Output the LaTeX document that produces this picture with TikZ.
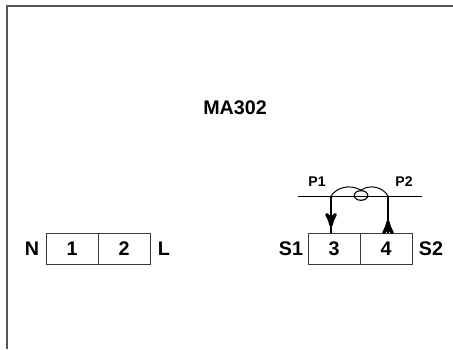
\documentclass[tikz,border=0pt]{standalone}
\usepackage{fontspec}
\setmainfont{Liberation Sans}
\usepackage{xcolor}
\usetikzlibrary{arrows,decorations.markings,shapes.geometric}

\definecolor{framegray}{HTML}{555552}
\definecolor{boxgray}{HTML}{3A3A3A}

\tikzset{
    cell/.style={rectangle, draw=boxgray, line width=0.65pt, minimum width=1.3cm, minimum height=0.775cm, inner sep=0pt},
    term/.style={font=\bfseries\fontsize{14}{14}\selectfont, inner sep=0pt},
    tag/.style={font=\bfseries\fontsize{10}{10}\selectfont, inner sep=0pt},
    downflow/.style={line width=1.7pt, decoration={markings, mark=at position 0.84 with {\arrow[line width=2.2pt]{stealth'}}}, postaction={decorate}},
    upflow/.style={line width=1.7pt, decoration={markings, mark=at position 0.33 with {\arrow[line width=2.2pt]{stealth'}}}, postaction={decorate}}
}

\begin{document}
\begin{tikzpicture}[x=0.025cm,y=-0.025cm]

    \useasboundingbox (0,0) rectangle (453,349);

    %frame
    \coordinate (fa) at (7,349);
    \coordinate (fb) at (7,6);
    \coordinate (fc) at (453,6);
    \draw[framegray, line width=1.7pt] (fa) -- (fb) -- (fc);

    \node[term] (title) at (235,108) {MA302};

    %left terminals
    \node[cell] (c1) at (72,248.5) {};
    \node[term] at (c1.center) {1};
    \node[cell] (c2) at (124,248.5) {};
    \node[term] at (c2.center) {2};
    \node[term] (n) at (32,249) {N};
    \node[term] (l) at (164,249) {L};

    %right terminals
    \node[cell] (c3) at (334,248.5) {};
    \node[term] at (c3.center) {3};
    \node[cell] (c4) at (386,248.5) {};
    \node[term] at (c4.center) {4};
    \node[term] (s1) at (291,249) {S1};
    \node[term] (s2) at (431,249) {S2};

    %conductor
    \coordinate (wa) at (298,196);
    \coordinate (wb) at (422,196);
    \coordinate (p1) at (331,196);
    \coordinate (p2) at (388,196);
    \draw[line width=0.65pt] (wa) -- (wb);

    \node[tag] (lp1) at (317,182) {P1};
    \node[tag] (lp2) at (404,182) {P2};

    %current transformer
    \node[ellipse, draw, line width=0.8pt, minimum width=0.34cm, minimum height=0.24cm, inner sep=0pt] (ct) at (361,195.5) {};
    \draw[line width=0.7pt] (p1) .. controls (337,187) and (350,184) .. (ct.north);
    \draw[line width=0.7pt] (ct.north) .. controls (370,184) and (383,187) .. (p2);

    \draw[downflow] (p1) -- (p1 |- c3.north);
    \draw[upflow] (p2 |- c4.north) -- (p2);

\end{tikzpicture}
\end{document}
